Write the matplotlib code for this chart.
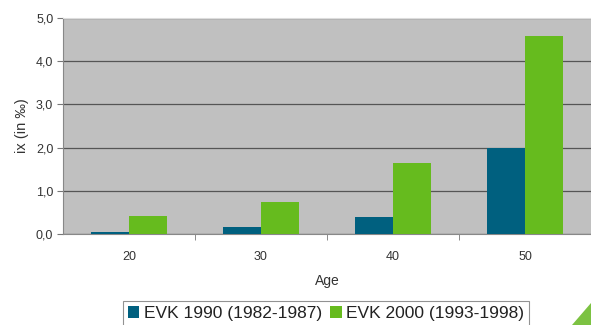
import numpy as np
import matplotlib.pyplot as plt
from matplotlib.patches import Polygon

plt.rcParams['font.family'] = ['Liberation Sans', 'DejaVu Sans']

# ── Data ──
ages = ['20', '30', '40', '50']
evk_1990 = [0.05, 0.17, 0.40, 2.00]
evk_2000 = [0.42, 0.74, 1.65, 4.58]
label_1990 = 'EVK 1990 (1982-1987)'
label_2000 = 'EVK 2000 (1993-1998)'

blue = '#00607f'
green = '#66bb1e'

fig = plt.figure(figsize=(5.91, 3.25), dpi=100)
ax = fig.add_axes([63 / 591, 1 - 234 / 325, 1 - 63 / 591, 216 / 325])
ax.set_facecolor('#c0c0c0')

x = np.arange(len(ages))
w = 0.29
b1 = ax.bar(x - w / 2, evk_1990, w, color=blue, zorder=3, label=label_1990)
b2 = ax.bar(x + w / 2, evk_2000, w, color=green, zorder=3, label=label_2000)

ax.set_xlim(-0.5, len(ages) - 0.5)
ax.set_ylim(0, 5)
ax.set_yticks(np.arange(0, 5.1, 1.0))
ax.set_yticklabels([f'{v:.1f}'.replace('.', ',') for v in np.arange(0, 5.1, 1.0)],
                   fontsize=9, color='#333333')
ax.yaxis.grid(True, color='#555555', linewidth=0.9, zorder=1)

# category labels centred, tick marks on the boundaries
ax.set_xticks(x)
ax.set_xticklabels(ages, fontsize=9, color='#333333')
ax.tick_params(axis='x', length=0, pad=12)
ax.set_xticks(np.arange(0.5, len(ages) - 0.5, 1.0), minor=True)
ax.tick_params(axis='x', which='minor', length=4, color='#777777')
ax.tick_params(axis='y', length=4, color='#777777', pad=3)

ax.spines['right'].set_visible(False)
ax.spines['top'].set_color('#dddddd')
ax.spines['left'].set_color('#888888')
ax.spines['bottom'].set_color('#888888')

ax.set_xlabel('Age', fontsize=10, color='#333333', labelpad=8)
ax.set_ylabel('ix (in ‰)', fontsize=10.5, color='#333333', labelpad=5)

leg = fig.legend(handles=[b1, b2], loc='upper center',
                 bbox_to_anchor=(326 / 591, 1 - 301 / 325),
                 ncol=2, fontsize=12.5, frameon=True, fancybox=False,
                 handlelength=0.65, handleheight=0.65, handletextpad=0.25,
                 columnspacing=0.5, borderpad=0.3, borderaxespad=0)
leg.get_frame().set_edgecolor('#777777')
leg.get_frame().set_linewidth(0.8)
for t in leg.get_texts():
    t.set_color('#222222')

# green corner accent
fig.patches.append(Polygon([(1.0, 0.0), (1.0, 22 / 325), (572 / 591, 0.0)],
                           closed=True, transform=fig.transFigure,
                           facecolor='#7cc242', edgecolor='none'))

fig.savefig('out.png', dpi=100)
